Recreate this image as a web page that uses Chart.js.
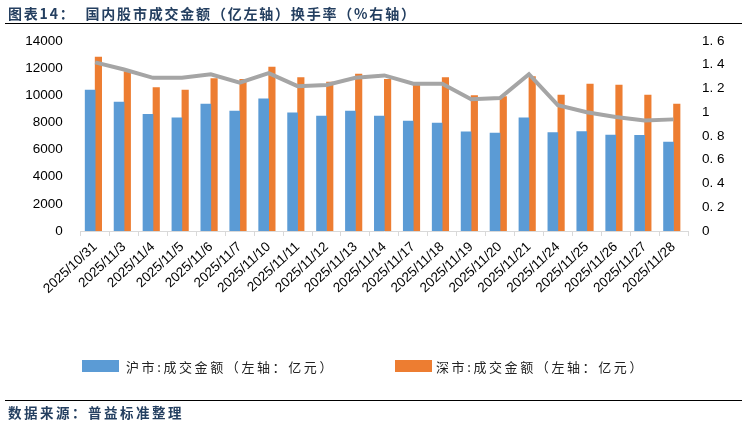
<!DOCTYPE html>
<html>
<head>
<meta charset="utf-8">
<script src="https://cdn.jsdelivr.net/npm/chart.js@4/dist/chart.umd.min.js"></script>
<style>
  html, body { margin: 0; padding: 0; background: #fff; }
  #wrap { position: relative; width: 747px; height: 423px; overflow: hidden; }
  #box { position: absolute; left: 0; top: 0; width: 747px; height: 423px; }
  .title { position: absolute; left: 8px; top: 3px; font: bold 14px "Noto Sans CJK SC"; letter-spacing: 1.8px; color: #243F60; white-space: nowrap; }
  .rule { position: absolute; left: 5px; width: 737px; height: 0; border-top: 1.5px solid #000; }
  .src { position: absolute; left: 8px; top: 402px; font: bold 13.5px "Noto Sans CJK SC"; letter-spacing: 2.5px; color: #243F60; white-space: nowrap; }
  .leg { position: absolute; top: 357px; font: 13px "Noto Sans CJK SC"; letter-spacing: 2.6px; color: #222; white-space: nowrap; }
  .leg i { position: absolute; top: 3px; width: 37px; height: 12px; }
</style>
</head>
<body>
<div id="wrap">
  <div id="box"><canvas id="myChart"></canvas></div>
  <div class="title">图表14：&nbsp;&nbsp;国内股市成交金额（亿左轴）换手率（%右轴）</div>
  <div class="rule" style="top:23px"></div>
  <div class="leg" style="left:126px"><i style="left:-44px;background:#5B9BD5"></i>沪市:成交金额（左轴：亿元）</div>
  <div class="leg" style="left:436px"><i style="left:-41px;background:#ED7D31"></i>深市:成交金额（左轴：亿元）</div>
  <div class="rule" style="top:400px"></div>
  <div class="src">数据来源：普益标准整理</div>
</div>
<script>
var dates = ["2025/10/31", "2025/11/3", "2025/11/4", "2025/11/5", "2025/11/6", "2025/11/7", "2025/11/10", "2025/11/11", "2025/11/12", "2025/11/13", "2025/11/14", "2025/11/17", "2025/11/18", "2025/11/19", "2025/11/20", "2025/11/21", "2025/11/24", "2025/11/25", "2025/11/26", "2025/11/27", "2025/11/28"];
var shAmount = [10390, 9500, 8600, 8330, 9360, 8840, 9730, 8700, 8470, 8840, 8470, 8100, 7960, 7300, 7220, 8330, 7250, 7320, 7070, 7050, 6560];
var szAmount = [12820, 11740, 10560, 10390, 11230, 11180, 12080, 11300, 10980, 11570, 11180, 10880, 11300, 9970, 9900, 11370, 10020, 10830, 10760, 10020, 9360];
var turnover = [1.42, 1.36, 1.29, 1.29, 1.32, 1.25, 1.33, 1.22, 1.23, 1.29, 1.31, 1.24, 1.24, 1.11, 1.12, 1.32, 1.06, 1.00, 0.96, 0.93, 0.94];

var tickFont = { family: "Liberation Sans", size: 13.5 };

var ctx = document.getElementById("myChart").getContext("2d");
var myChart = new Chart(ctx, {
  type: "bar",
  data: {
    labels: dates,
    datasets: [{
      type: "line",
      label: "换手率",
      data: turnover,
      yAxisID: "y1",
      borderColor: "#A5A5A5",
      borderWidth: 4,
      pointRadius: 0,
      tension: 0,
      order: 0
    }, {
      label: "沪市:成交金额（左轴：亿元）",
      data: shAmount,
      yAxisID: "y",
      backgroundColor: "#5B9BD5",
      barThickness: 10,
      order: 1
    }, {
      label: "深市:成交金额（左轴：亿元）",
      data: szAmount,
      yAxisID: "y",
      backgroundColor: "#ED7D31",
      barThickness: 6.5,
      order: 1
    }]
  },
  options: {
    responsive: true,
    maintainAspectRatio: false,
    animation: false,
    layout: { padding: { top: 41, bottom: 97, left: 0, right: 0 } },
    plugins: { legend: { display: false }, tooltip: { enabled: false } },
    scales: {
      x: {
        grid: { drawOnChartArea: false, color: "#D9D9D9", tickLength: 5 },
        border: { color: "#D9D9D9" },
        ticks: { color: "#000", font: { family: "Liberation Sans", size: 13.5 }, minRotation: 43, maxRotation: 43, autoSkip: false, padding: 3 },
        afterFit: function(s) { s.height = 95; }
      },
      y: {
        position: "left",
        min: 0, max: 14000,
        ticks: {
          stepSize: 2000, color: "#000", font: tickFont, padding: 10,
          callback: function(v) { return String(v); }
        },
        grid: { display: false },
        border: { display: false },
        afterFit: function(s) { s.width = 80.7; }
      },
      y1: {
        position: "right",
        min: 0, max: 1.6,
        ticks: {
          stepSize: 0.2, color: "#000", font: tickFont, padding: 6,
          callback: function(v) {
            var r = Math.round(v * 10) / 10;
            if (r === 0 || r === 1) return String(r);
            return r.toFixed(1).replace(".", ". ");
          }
        },
        grid: { display: false },
        border: { display: false },
        afterFit: function(s) { s.width = 59; }
      }
    }
  }
});
</script>
</body>
</html>
